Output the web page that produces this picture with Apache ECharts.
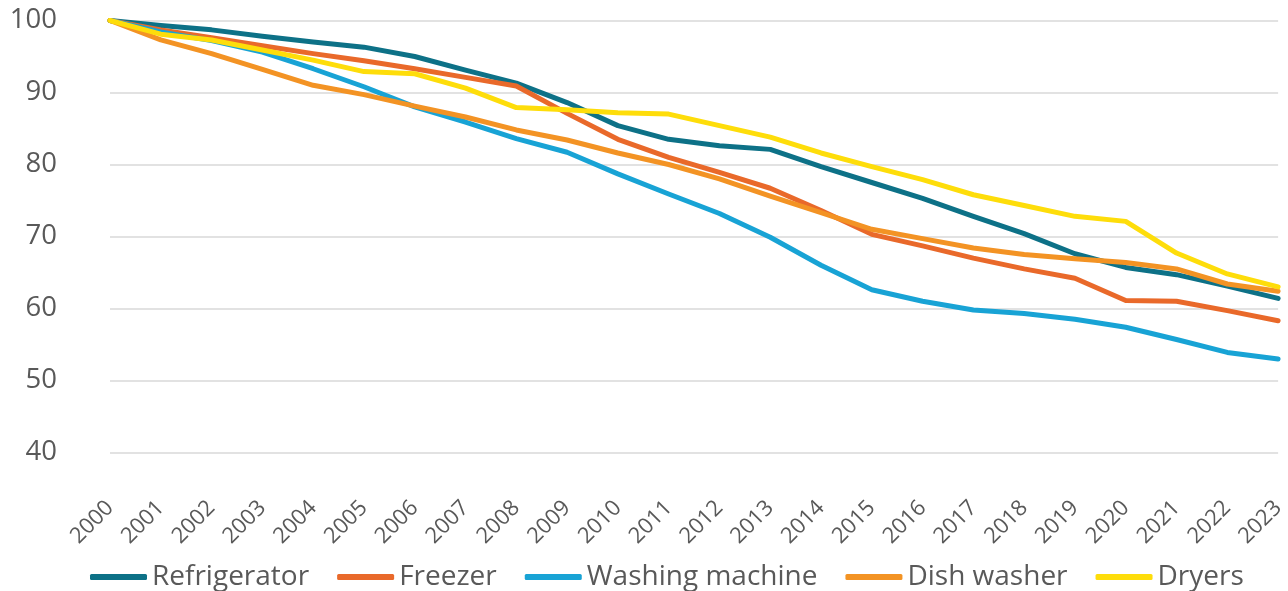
<!DOCTYPE html>
<html><head><meta charset="utf-8">
<script src="https://cdn.jsdelivr.net/npm/echarts@6/dist/echarts.min.js"></script>
<style>html,body{margin:0;padding:0;background:#fff}#c{width:1288px;height:591px}</style>
</head><body><div id="c"></div>
<script>
const years = ['2000','2001','2002','2003','2004','2005','2006','2007','2008','2009','2010','2011','2012','2013','2014','2015','2016','2017','2018','2019','2020','2021','2022','2023'];
const refrigerator = [100,99.3,98.7,97.8,97.0,96.3,95.0,93.1,91.3,88.6,85.4,83.5,82.6,82.1,79.7,77.5,75.3,72.8,70.4,67.6,65.7,64.7,63.1,61.4];
const freezer = [100,98.7,97.6,96.5,95.4,94.4,93.3,92.1,90.9,87.1,83.5,81.0,78.9,76.7,73.6,70.3,68.7,67.0,65.5,64.2,61.1,61.0,59.7,58.3];
const washingMachine = [100,98.4,97.2,95.6,93.3,90.8,88.0,85.9,83.6,81.7,78.7,75.9,73.2,69.9,66.0,62.6,61.0,59.8,59.3,58.5,57.4,55.7,53.9,53.0];
const dishWasher = [100,97.3,95.4,93.2,91.0,89.7,88.1,86.6,84.8,83.4,81.6,80.0,78.0,75.6,73.3,71.0,69.7,68.4,67.5,66.9,66.4,65.5,63.4,62.4];
const dryers = [100,98.1,97.3,95.9,94.5,92.9,92.6,90.6,87.9,87.6,87.2,87.0,85.4,83.8,81.6,79.7,77.9,75.8,74.3,72.8,72.1,67.7,64.8,63.0];
const seriesNames = ['Refrigerator','Freezer','Washing machine','Dish washer','Dryers'];
const seriesData = [refrigerator, freezer, washingMachine, dishWasher, dryers];
const colors = ['#0d7187','#e9692a','#18a3d5','#f39324','#fedd0a'];

const chart = echarts.init(document.getElementById('c'));
const FONT = '"Open Sans", "Noto Sans", sans-serif';
chart.setOption({
  animation: false,
  color: colors,
  textStyle: {fontFamily: FONT},
  grid: {left: 110, right: 8, top: 20.5, bottom: 138.5, containLabel: false},
  legend: {
    top: 563, left: 90, padding: 0,
    itemWidth: 57, itemHeight: 6, itemGap: 28,
    icon: 'roundRect',
    textStyle: {fontSize: 28, color: '#595959', fontFamily: FONT},
    data: seriesNames
  },
  xAxis: {
    type: 'category', data: years, boundaryGap: false,
    axisLine: {show: false}, axisTick: {show: false},
    axisLabel: {rotate: 45, margin: 52, fontSize: 22, color: '#595959', fontFamily: FONT, interval: 0}
  },
  yAxis: {
    type: 'value', min: 40, max: 100, interval: 10,
    axisLine: {show: false}, axisTick: {show: false},
    axisLabel: {margin: 53, fontSize: 27.5, color: '#595959', fontFamily: FONT},
    splitLine: {lineStyle: {color: '#d9d9d9', width: 1.5}}
  },
  series: seriesNames.map((n, i) => ({
    name: n, type: 'line', data: seriesData[i],
    symbol: 'none', lineStyle: {width: 5, cap: 'round', join: 'round'}
  }))
});
</script></body></html>
